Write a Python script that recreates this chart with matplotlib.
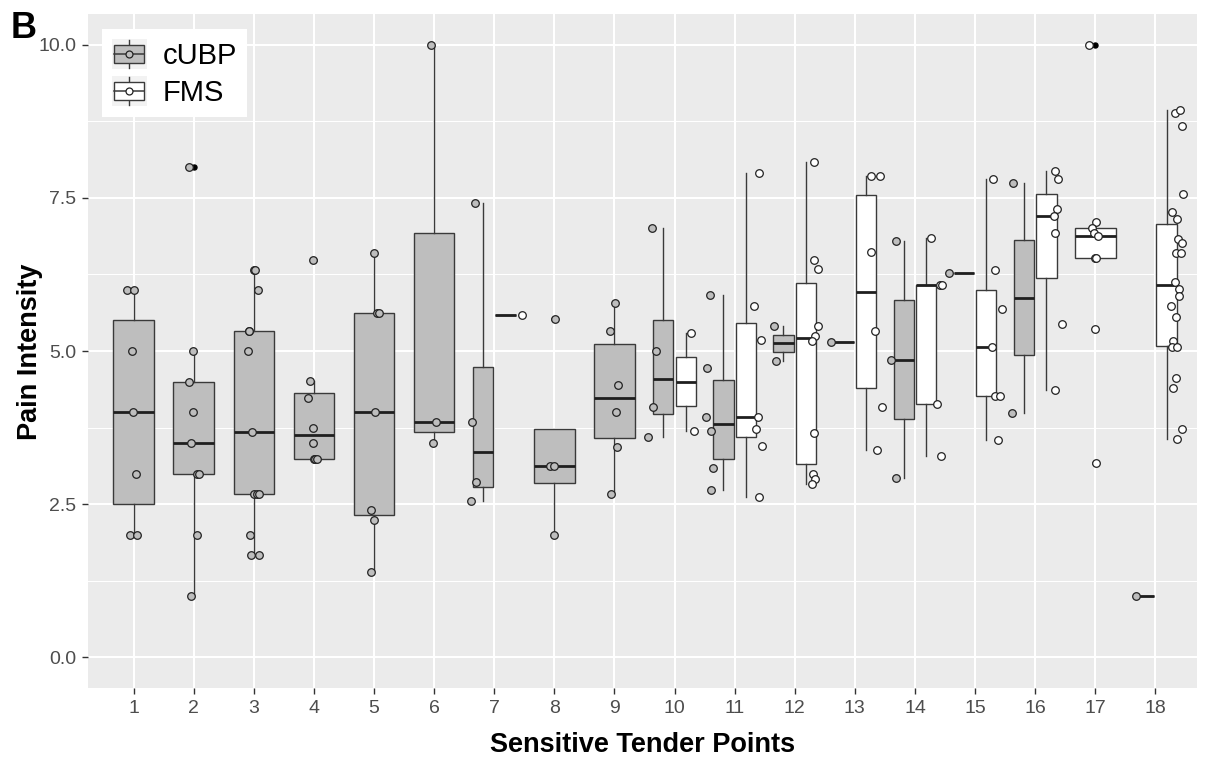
import matplotlib
matplotlib.use("Agg")
import matplotlib.pyplot as plt
from matplotlib.patches import Rectangle
from matplotlib.lines import Line2D
from matplotlib.legend_handler import HandlerBase

plt.rcParams['font.family'] = ['Liberation Sans', 'DejaVu Sans']

points = list(range(1, 19))

# pain intensity per tender point, cUBP group (empty = no data)
cubp_vals = [
    [6, 6, 5, 4, 3, 2, 2],
    [8, 5, 4.5, 4, 3.5, 3, 3, 2, 1],
    [6.33, 6.33, 6, 5.33, 5.33, 5, 3.67, 2.67, 2.67, 2.67, 2, 1.67, 1.67],
    [6.49, 4.51, 4.24, 3.75, 3.5, 3.24, 3.24, 3.24],
    [6.6, 5.62, 5.62, 4, 2.4, 2.25, 1.4],
    [10, 3.84, 3.5],
    [7.42, 3.84, 2.86, 2.56],
    [5.52, 3.13, 3.13, 2],
    [5.78, 5.33, 4.45, 4, 3.44, 2.66],
    [7, 5, 4.09, 3.6],
    [5.91, 4.72, 3.92, 3.7, 3.09, 2.73],
    [5.41, 4.84],
    [5.15],
    [6.79, 4.86, 2.93],
    [6.27],
    [7.75, 3.99],
    [],
    [1.0],
]
# horizontal jitter of the points (category units, relative to the tick)
cubp_jit = [
    [-0.106, 0.01, -0.028, -0.007, 0.033, -0.067, 0.05],
    [-0.075, -0.008, -0.085, -0.018, -0.052, 0.058, 0.092, 0.048, -0.042],
    [0.002, 0.013, 0.068, -0.087, -0.077, -0.098, -0.032, 0.002, 0.057, 0.085, -0.065, -0.048, 0.085],
    [-0.022, -0.062, -0.105, -0.022, -0.022, 0, 0.022, 0.045],
    [0.003, 0.053, 0.087, 0.015, -0.047, 0.003, -0.047],
    [-0.058, 0.03, -0.025],
    [-0.316, -0.371, -0.3, -0.388],
    [0.01, -0.073, -0.007, -0.007],
    [0.003, -0.07, 0.063, 0.03, 0.047, -0.053],
    [-0.381, -0.309, -0.354, -0.448],
    [-0.416, -0.456, -0.473, -0.399, -0.356, -0.399],
    [-0.346, -0.308],
    [-0.398],
    [-0.316, -0.399, -0.316],
    [-0.429],
    [-0.364, -0.381],
    [],
    [-0.318],
]

fms_vals = [
    [], [], [], [], [], [],
    [5.58],
    [], [],
    [5.3, 3.7],
    [7.9, 5.73, 5.18, 3.92, 3.73, 3.45, 2.62],
    [8.08, 6.49, 6.34, 5.41, 5.25, 5.17, 3.66, 2.99, 2.91, 2.83],
    [7.85, 7.85, 6.61, 5.32, 4.08, 3.39],
    [6.85, 6.07, 6.07, 4.14, 3.29],
    [7.8, 6.32, 5.68, 5.07, 4.26, 4.26, 3.54],
    [7.93, 7.8, 7.31, 7.2, 6.93, 5.44, 4.37],
    [10, 7.11, 7.0, 6.93, 6.88, 6.51, 6.51, 5.36, 3.17],
    [8.88, 8.93, 8.67, 7.56, 7.27, 7.16, 6.83, 6.76, 6.6, 6.6, 6.13, 6.01,
     5.89, 5.73, 5.56, 5.17, 5.06, 5.06, 4.56, 4.39, 3.72, 3.57],
]
fms_jit = [
    [], [], [], [], [], [],
    [0.456],
    [], [],
    [0.278, 0.328],
    [0.399, 0.316, 0.433, 0.388, 0.349, 0.449, 0.399],
    [0.324, 0.324, 0.391, 0.391, 0.341, 0.286, 0.324, 0.308, 0.341, 0.286],
    [0.268, 0.418, 0.268, 0.334, 0.451, 0.368],
    [0.271, 0.411, 0.454, 0.361, 0.428],
    [0.303, 0.331, 0.448, 0.281, 0.331, 0.419, 0.381],
    [0.324, 0.374, 0.363, 0.313, 0.324, 0.446, 0.324],
    [-0.1, 0.012, -0.055, -0.022, 0.05, -0.005, 0.017, -0.005, 0.007],
    [0.326, 0.409, 0.443, 0.459, 0.271, 0.359, 0.371, 0.443, 0.338, 0.421, 0.326,
     0.393, 0.393, 0.255, 0.338, 0.293, 0.271, 0.364, 0.338, 0.293, 0.443, 0.359],
]

groups = [("cUBP", cubp_vals, cubp_jit, "#BEBEBE"),
          ("FMS", fms_vals, fms_jit, "#FFFFFF")]

W, H = 1207, 763
fig = plt.figure(figsize=(W / 100, H / 100), dpi=100)
ax = fig.add_axes([88 / W, 1 - 688 / H, (1197 - 88) / W, (688 - 14) / H])
ax.set_facecolor("#EBEBEB")
for s in ax.spines.values():
    s.set_visible(False)

edge = "#3a3a3a"
full_w = 0.675
# boxes (dodged when both groups exist at a tender point)
for gi, (name, vals, jit, col) in enumerate(groups):
    data, pos, wid = [], [], []
    for k, v in zip(points, vals):
        if not v:
            continue
        both = bool(cubp_vals[k - 1]) and bool(fms_vals[k - 1])
        if both:
            pos.append(k + (-0.1875 if gi == 0 else 0.1875))
            wid.append(full_w / 2)
        else:
            pos.append(k)
            wid.append(full_w)
        data.append(v)
    ax.boxplot(data, positions=pos, widths=wid, patch_artist=True, showcaps=False,
               manage_ticks=False,
               boxprops=dict(facecolor=col, edgecolor=edge, linewidth=1.0),
               medianprops=dict(color="#1f1f1f", linewidth=2.0),
               whiskerprops=dict(color=edge, linewidth=1.0),
               flierprops=dict(marker="o", markerfacecolor="black",
                               markeredgecolor="black", markersize=3.6),
               zorder=2)

# jittered points
for name, vals, jit, col in groups:
    xs, ys = [], []
    for k, v, j in zip(points, vals, jit):
        xs += [k + d for d in j]
        ys += v
    ax.scatter(xs, ys, s=30, facecolor=col, edgecolor="#222222", linewidth=0.9, zorder=4)

ax.set_xlim(0.24, 18.693)
ax.set_ylim(-0.5, 10.5)
ax.set_xticks(points)
ax.set_xticklabels([str(p) for p in points])
ax.set_yticks([0, 2.5, 5, 7.5, 10])
ax.set_yticklabels(["0.0", "2.5", "5.0", "7.5", "10.0"])
ax.set_yticks([1.25, 3.75, 6.25, 8.75], minor=True)
ax.grid(True, which="major", color="white", linewidth=1.5)
ax.grid(True, which="minor", axis="y", color="white", linewidth=0.75)
ax.set_axisbelow(True)
ax.tick_params(axis="both", which="major", labelsize=14, labelcolor="#4D4D4D",
               color="#333333", length=4.5, width=1.0, pad=4)
ax.tick_params(axis="both", which="minor", length=0)

fig.text(643 / W, 1 - 745 / H, "Sensitive Tender Points", fontsize=19.5,
         fontweight="bold", ha="center", va="center")
fig.text(30 / W, 1 - 352 / H, "Pain Intensity", fontsize=19.5,
         fontweight="bold", ha="center", va="center", rotation=90)
fig.text(11 / W, 1 - 11 / H, "B", fontsize=26, fontweight="bold", ha="left", va="top")


class BoxKey(HandlerBase):
    def create_artists(self, legend, orig_handle, xdescent, ydescent, width, height,
                       fontsize, trans):
        x0, y0 = -xdescent, -ydescent
        fc = orig_handle.get_facecolor()
        cx, cy = x0 + width / 2, y0 + height / 2
        arts = [
            Rectangle((x0, y0), width, height, facecolor="#F2F2F2", edgecolor="none",
                      transform=trans),
            Line2D([cx, cx], [y0 + height * 0.04, y0 + height * 0.2], color=edge, lw=1,
                   transform=trans),
            Line2D([cx, cx], [y0 + height * 0.8, y0 + height * 0.96], color=edge, lw=1,
                   transform=trans),
            Rectangle((x0 + width * 0.07, y0 + height * 0.2), width * 0.86, height * 0.6,
                      facecolor=fc, edgecolor=edge, lw=1, transform=trans),
            Line2D([x0 + width * 0.07, x0 + width * 0.93], [cy, cy], color=edge, lw=1.1,
                   transform=trans),
            Line2D([cx], [cy], marker="o", markersize=5, markerfacecolor=fc,
                   markeredgecolor="#222222", markeredgewidth=0.9, transform=trans),
        ]
        return arts


handles = [Rectangle((0, 0), 1, 1, facecolor=c) for _, _, _, c in groups]
leg = ax.legend(handles, [g[0] for g in groups], handler_map={Rectangle: BoxKey()},
                loc="upper left", bbox_to_anchor=(102 / W, 1 - 29 / H),
                bbox_transform=fig.transFigure, borderaxespad=0, fontsize=21,
                frameon=True, fancybox=False, handlelength=1.2, handleheight=1.2,
                handletextpad=0.55, labelspacing=0.22, borderpad=0.34)
leg.get_frame().set_facecolor("white")
leg.get_frame().set_edgecolor("none")
leg.get_frame().set_alpha(1)

fig.savefig("out.png", dpi=100)
